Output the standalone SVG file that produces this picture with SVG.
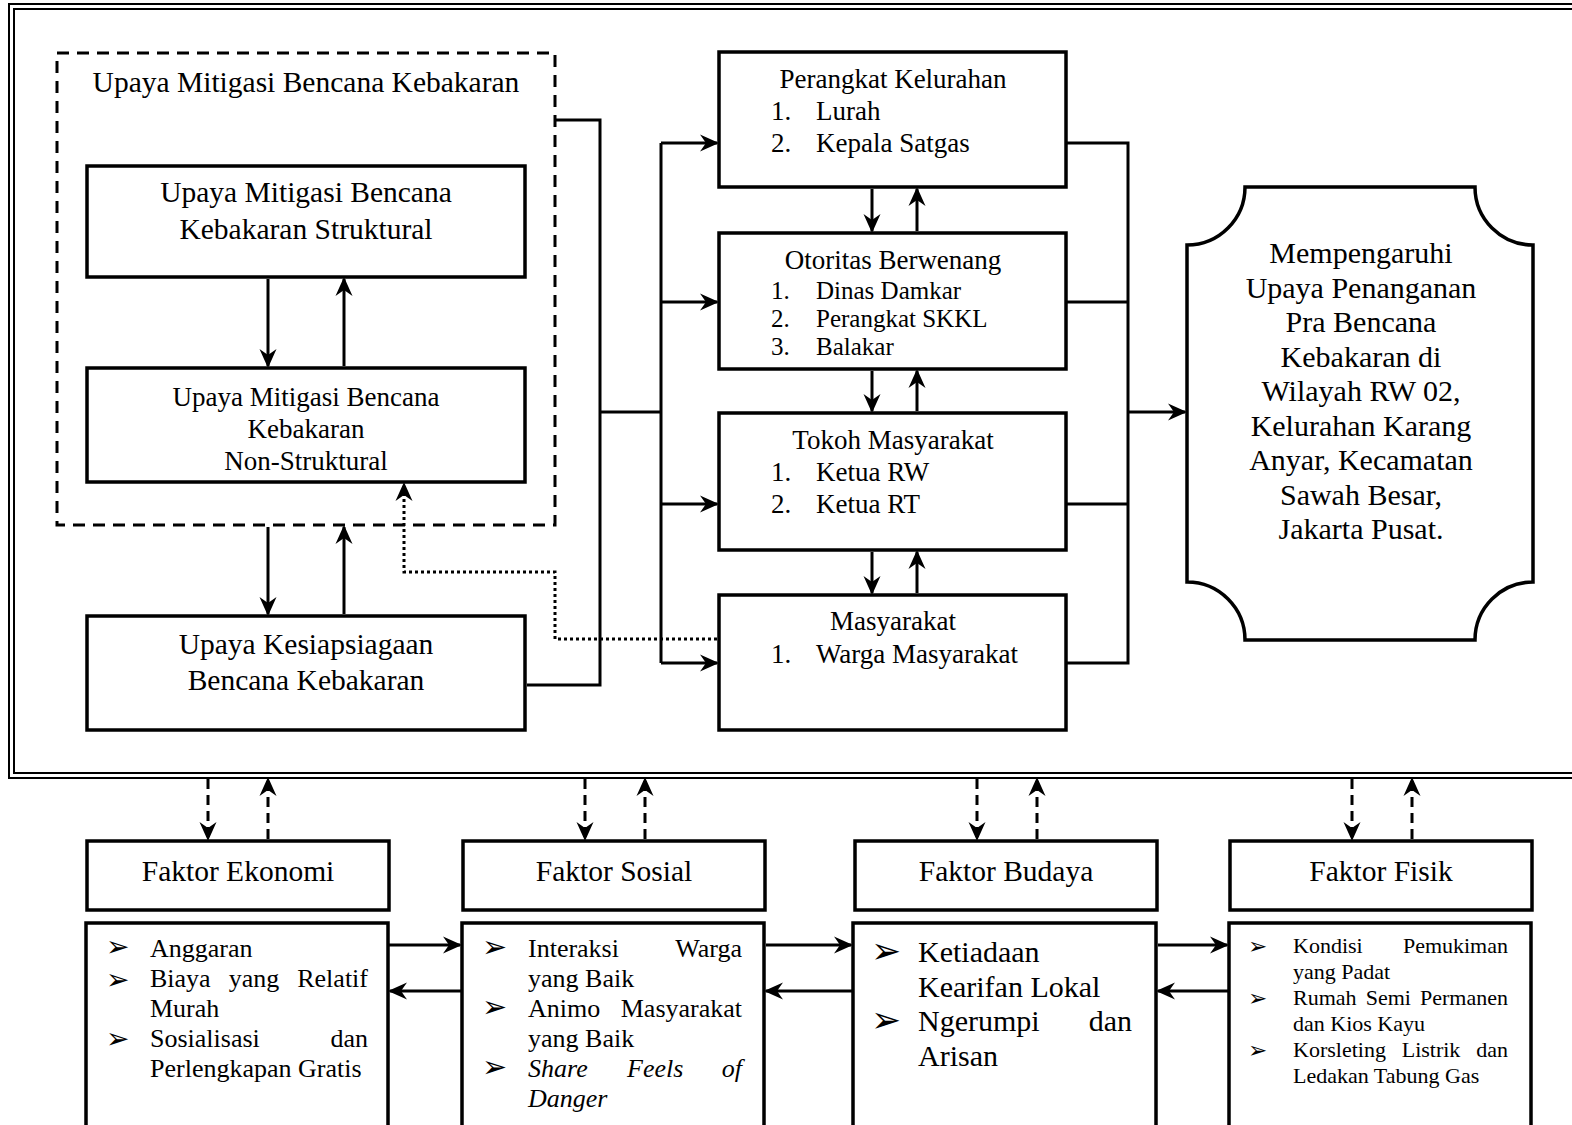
<svg xmlns="http://www.w3.org/2000/svg" width="1572" height="1125" viewBox="0 0 1572 1125">
<defs>
<style>
.box{fill:none;stroke:#000;stroke-width:3.5}
.frame{fill:none;stroke:#000;stroke-width:2}
.ln{fill:none;stroke:#000;stroke-width:3}
.dash{stroke-dasharray:12 8}
.dsh{stroke-dasharray:10 6}
.dot{stroke-dasharray:3 3}
.t{font-family:"Liberation Serif","Times New Roman",serif;fill:#000}
.c{text-anchor:middle}
.e{text-anchor:end}
.b{font-family:"DejaVu Sans",sans-serif;fill:#000}
.i{font-style:italic}
</style>
<marker id="ah" viewBox="-20 -10 23 20" refX="0" refY="0" markerWidth="23" markerHeight="20" markerUnits="userSpaceOnUse" orient="auto">
<path d="M2,0 L-17,-8.5 L-11,0 L-17,8.5 Z" fill="#000"/>
</marker>
</defs>
<rect x="0" y="0" width="1572" height="1125" fill="#fff"/>

<g id="frame">
<rect class="frame" x="9" y="4" width="1620" height="774"/>
<rect class="frame" x="14" y="9" width="1620" height="764"/>
</g>

<g id="mitigasi-group">
<rect class="box dash" x="57" y="53" width="498" height="472" style="stroke-width:3"/>
<text class="t c" x="306" y="92" font-size="29.5">Upaya Mitigasi Bencana Kebakaran</text>
</g>

<g id="struktural">
<rect class="box" x="87" y="166" width="438" height="111"/>
<text class="t c" x="306" y="202" font-size="29.5">Upaya Mitigasi Bencana</text>
<text class="t c" x="306" y="239" font-size="29.5">Kebakaran Struktural</text>
</g>

<g id="non-struktural">
<rect class="box" x="87" y="368" width="438" height="114"/>
<text class="t c" x="306" y="406" font-size="27">Upaya Mitigasi Bencana</text>
<text class="t c" x="306" y="438" font-size="27">Kebakaran</text>
<text class="t c" x="306" y="470" font-size="27">Non-Struktural</text>
</g>

<g id="kesiapsiagaan">
<rect class="box" x="87" y="616" width="438" height="114"/>
<text class="t c" x="306" y="654" font-size="29.5">Upaya Kesiapsiagaan</text>
<text class="t c" x="306" y="690" font-size="29.5">Bencana Kebakaran</text>
</g>

<g id="perangkat">
<rect class="box" x="719" y="52" width="347" height="135"/>
<text class="t c" x="893" y="88" font-size="27">Perangkat Kelurahan</text>
<text class="t" x="771" y="120" font-size="27">1.</text>
<text class="t" x="816" y="120" font-size="27">Lurah</text>
<text class="t" x="771" y="152" font-size="27">2.</text>
<text class="t" x="816" y="152" font-size="27">Kepala Satgas</text>
</g>

<g id="otoritas">
<rect class="box" x="719" y="233" width="347" height="136"/>
<text class="t c" x="893" y="269" font-size="27">Otoritas Berwenang</text>
<text class="t" x="771" y="299" font-size="25">1.</text>
<text class="t" x="816" y="299" font-size="25">Dinas Damkar</text>
<text class="t" x="771" y="327" font-size="25">2.</text>
<text class="t" x="816" y="327" font-size="25">Perangkat SKKL</text>
<text class="t" x="771" y="355" font-size="25">3.</text>
<text class="t" x="816" y="355" font-size="25">Balakar</text>
</g>

<g id="tokoh">
<rect class="box" x="719" y="413" width="347" height="137"/>
<text class="t c" x="893" y="449" font-size="27">Tokoh Masyarakat</text>
<text class="t" x="771" y="481" font-size="27">1.</text>
<text class="t" x="816" y="481" font-size="27">Ketua RW</text>
<text class="t" x="771" y="513" font-size="27">2.</text>
<text class="t" x="816" y="513" font-size="27">Ketua RT</text>
</g>

<g id="masyarakat">
<rect class="box" x="719" y="595" width="347" height="135"/>
<text class="t c" x="893" y="630" font-size="27">Masyarakat</text>
<text class="t" x="771" y="663" font-size="27">1.</text>
<text class="t" x="816" y="663" font-size="27">Warga Masyarakat</text>
</g>

<g id="hasil">
<path class="box" d="M1245,187 L1475,187 A58,58 0 0 0 1533,245 L1533,582 A58,58 0 0 0 1475,640 L1245,640 A58,58 0 0 0 1187,582 L1187,245 A58,58 0 0 0 1245,187 Z"/>
<g class="t c" font-size="30">
<text x="1361" y="263">Mempengaruhi</text>
<text x="1361" y="297.5">Upaya Penanganan</text>
<text x="1361" y="332">Pra Bencana</text>
<text x="1361" y="366.5">Kebakaran di</text>
<text x="1361" y="401">Wilayah RW 02,</text>
<text x="1361" y="435.5">Kelurahan Karang</text>
<text x="1361" y="470">Anyar, Kecamatan</text>
<text x="1361" y="504.5">Sawah Besar,</text>
<text x="1361" y="539">Jakarta Pusat.</text>
</g>
</g>

<g id="faktor-ekonomi">
<rect class="box" x="87" y="841" width="302" height="69"/>
<text class="t c" x="238" y="881" font-size="29.5">Faktor Ekonomi</text>
</g>
<g id="faktor-sosial">
<rect class="box" x="463" y="841" width="302" height="69"/>
<text class="t c" x="614" y="881" font-size="29.5">Faktor Sosial</text>
</g>
<g id="faktor-budaya">
<rect class="box" x="855" y="841" width="302" height="69"/>
<text class="t c" x="1006" y="881" font-size="29.5">Faktor Budaya</text>
</g>
<g id="faktor-fisik">
<rect class="box" x="1230" y="841" width="302" height="69"/>
<text class="t c" x="1381" y="881" font-size="29.5">Faktor Fisik</text>
</g>

<g id="isi-ekonomi">
<rect class="box" x="86" y="923" width="302" height="230"/>
<g class="b" font-size="28">
<text x="106" y="956">➢</text>
<text x="106" y="989">➢</text>
<text x="106" y="1048">➢</text>
</g>
<g class="t" font-size="26">
<text x="150" y="957">Anggaran</text>
<text x="150" y="987">Biaya</text>
<text x="228.7" y="987">yang</text>
<text class="e" x="368" y="987">Relatif</text>
<text x="150" y="1017">Murah</text>
<text x="150" y="1047">Sosialisasi</text>
<text class="e" x="368" y="1047">dan</text>
<text x="150" y="1077">Perlengkapan Gratis</text>
</g>
</g>

<g id="isi-sosial">
<rect class="box" x="462" y="923" width="302" height="230"/>
<g class="b" font-size="30">
<text x="482" y="957">➢</text>
<text x="482" y="1017">➢</text>
<text x="482" y="1077">➢</text>
</g>
<g class="t" font-size="26">
<text x="528" y="957">Interaksi</text>
<text class="e" x="742" y="957">Warga</text>
<text x="528" y="987">yang Baik</text>
<text x="528" y="1017">Animo</text>
<text class="e" x="742" y="1017">Masyarakat</text>
<text x="528" y="1047">yang Baik</text>
<text class="i" x="528" y="1077">Share</text>
<text class="i" x="627" y="1077">Feels</text>
<text class="i e" x="742" y="1077">of</text>
<text class="i" x="528" y="1107">Danger</text>
</g>
</g>

<g id="isi-budaya">
<rect class="box" x="853" y="923" width="303" height="230"/>
<g class="b" font-size="36">
<text x="871" y="963">➢</text>
<text x="871" y="1032">➢</text>
</g>
<g class="t" font-size="30">
<text x="918" y="962">Ketiadaan</text>
<text x="918" y="996.5">Kearifan Lokal</text>
<text x="918" y="1031">Ngerumpi</text>
<text class="e" x="1132" y="1031">dan</text>
<text x="918" y="1065.5">Arisan</text>
</g>
</g>

<g id="isi-fisik">
<rect class="box" x="1229" y="923" width="302" height="230"/>
<g class="b" font-size="23">
<text x="1248" y="954">➢</text>
<text x="1248" y="1006">➢</text>
<text x="1248" y="1058">➢</text>
</g>
<g class="t" font-size="22">
<text x="1293" y="953">Kondisi</text>
<text class="e" x="1508" y="953">Pemukiman</text>
<text x="1293" y="979">yang Padat</text>
<text x="1293" y="1005">Rumah</text>
<text x="1365.7" y="1005">Semi</text>
<text class="e" x="1508" y="1005">Permanen</text>
<text x="1293" y="1031">dan Kios Kayu</text>
<text x="1293" y="1057">Korsleting</text>
<text x="1401.7" y="1057">Listrik</text>
<text class="e" x="1508" y="1057">dan</text>
<text x="1293" y="1083">Ledakan Tabung Gas</text>
</g>
</g>

<g id="connectors">
<g class="ln">
<path d="M555,120 H600 V685 H527"/>
<path d="M600,412 H661"/>
<path d="M661,143 V663"/>
<path d="M1067,143 H1128 V663 H1067"/>
<path d="M1067,302 H1128"/>
<path d="M1067,504 H1128"/>
</g>
<g class="ln" marker-end="url(#ah)">
<path d="M268,279 V366"/>
<path d="M344,366 V279"/>
<path d="M268,527 V614"/>
<path d="M344,614 V527"/>
<path d="M661,143 H717"/>
<path d="M661,302 H717"/>
<path d="M661,504 H717"/>
<path d="M661,663 H717"/>
<path d="M872,189 V231"/>
<path d="M917,231 V189"/>
<path d="M872,371 V411"/>
<path d="M917,411 V371"/>
<path d="M872,552 V593"/>
<path d="M917,593 V552"/>
<path d="M1128,412 H1185"/>
<path d="M388,945 H460"/>
<path d="M462,991 H390"/>
<path d="M766,945 H851"/>
<path d="M853,991 H766"/>
<path d="M1158,945 H1227"/>
<path d="M1229,991 H1158"/>
</g>
<path class="ln dot" d="M717,639 H555 V572 H404 V484" marker-end="url(#ah)"/>
<g class="ln dsh" marker-end="url(#ah)">
<path d="M208,779 V839"/>
<path d="M268,839 V779"/>
<path d="M585,779 V839"/>
<path d="M645,839 V779"/>
<path d="M977,779 V839"/>
<path d="M1037,839 V779"/>
<path d="M1352,779 V839"/>
<path d="M1412,839 V779"/>
</g>
</g>
</svg>
